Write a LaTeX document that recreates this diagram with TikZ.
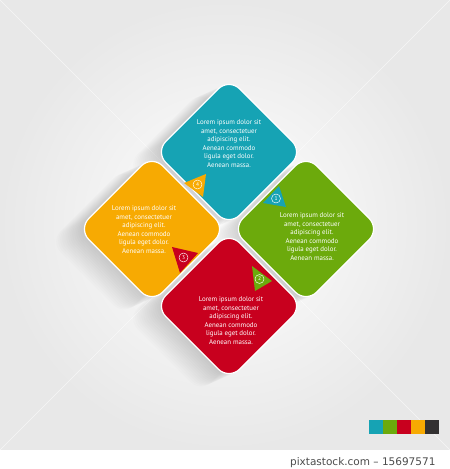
\documentclass[tikz,border=0pt]{standalone}
\usepackage{fontspec}
\setmainfont{PT Sans}
\newfontfamily\stampfont{DejaVu Sans}
\usepackage{tikz}
\usetikzlibrary{shapes.geometric}
\definecolor{tealpane}{HTML}{16A3B4}
\definecolor{greenpane}{HTML}{6CAA0C}
\definecolor{redpane}{HTML}{C8001E}
\definecolor{yellowpane}{HTML}{F7AA02}
\definecolor{darkswatch}{HTML}{333132}
\tikzset{pane/.style={diamond, aspect=1, minimum width=148pt, minimum height=148pt,
    inner sep=0pt, rounded corners=15pt, draw=white, line width=1.2pt},
    lorem/.style={text=white, align=center, font=\fontsize{6.9}{8.6}\selectfont},
    badge/.style={circle, draw=white, line width=0.45pt, inner sep=0pt,
    minimum size=9pt, text=white, font=\fontsize{5.5}{5.5}\selectfont}}

\begin{document}
\begin{tikzpicture}[x=1pt,y=-1pt]
            \useasboundingbox (0,0) rectangle (450,469);
            % backdrop
            \shade[inner color=white, outer color=black!9] (0,0) rectangle (450,450);
            \draw[white, line width=0.5pt, opacity=0.6] (0,0) -- (450,450) (450,0) -- (0,450);
            \fill[white] (0,450) rectangle (450,469);
            % soft shadow
            \foreach \k in {1,...,14}
            \fill[black, opacity=0.013, rounded corners=15pt, shift={(-2*\k,0.9*\k)}]
            \foreach \cx/\cy in {229/152,152/229,306/229,229/306}
            {(\cx+74,\cy) -- (\cx,\cy+74) -- (\cx-74,\cy) -- (\cx,\cy-74) -- cycle};
            % panes
            \node[pane, fill=tealpane] (teal) at (229,152) {};
            \node[pane, fill=yellowpane] (yellow) at (152,229) {};
            \node[pane, fill=greenpane] (green) at (306,229) {};
            \node[pane, fill=redpane] (red) at (229,306) {};
            % tabs
            \fill[tealpane] (263,203) -- (279,186) -- (286,207) -- cycle;
            \fill[greenpane] (252,266) -- (272,281) -- (255,291) -- cycle;
            \fill[redpane] (198,253) -- (180,273) -- (172,247) -- cycle;
            \fill[yellowpane] (184,183) -- (203,197) -- (206,174) -- cycle;
            \node[badge] (one) at (276,198.5) {1};
            \node[badge] (two) at (259.5,279) {2};
            \node[badge] (three) at (183.5,257.5) {3};
            \node[badge] (four) at (197.5,184.5) {4};
            % texts
            \node[lorem] (tealtext) at (229,143.5) {Lorem ipsum dolor sit\\amet, consectetuer\\adipiscing elit.\\Aenean commodo\\ligula eget dolor.\\Aenean massa.};
            \node[lorem] (greentext) at (312,236.5) {Lorem ipsum dolor sit\\amet, consectetuer\\adipiscing elit.\\Aenean commodo\\ligula eget dolor.\\Aenean massa.};
            \node[lorem] (redtext) at (231,320.5) {Lorem ipsum dolor sit\\amet, consectetuer\\adipiscing elit.\\Aenean commodo\\ligula eget dolor.\\Aenean massa.};
            \node[lorem] (yellowtext) at (144,229.5) {Lorem ipsum dolor sit\\amet, consectetuer\\adipiscing elit.\\Aenean commodo\\ligula eget dolor.\\Aenean massa.};
            % swatches
            \foreach \c [count=\i] in {tealpane,greenpane,redpane,yellowpane,darkswatch}
            \fill[\c] ({369+14*(\i-1)},420) rectangle +(14,14);
            \node[anchor=base east, text=black!70, font=\stampfont\fontsize{10.5}{12}\selectfont] (stamp) at (439,465) {pixtastock.com – 15697571};
        \end{tikzpicture}
\end{document}
